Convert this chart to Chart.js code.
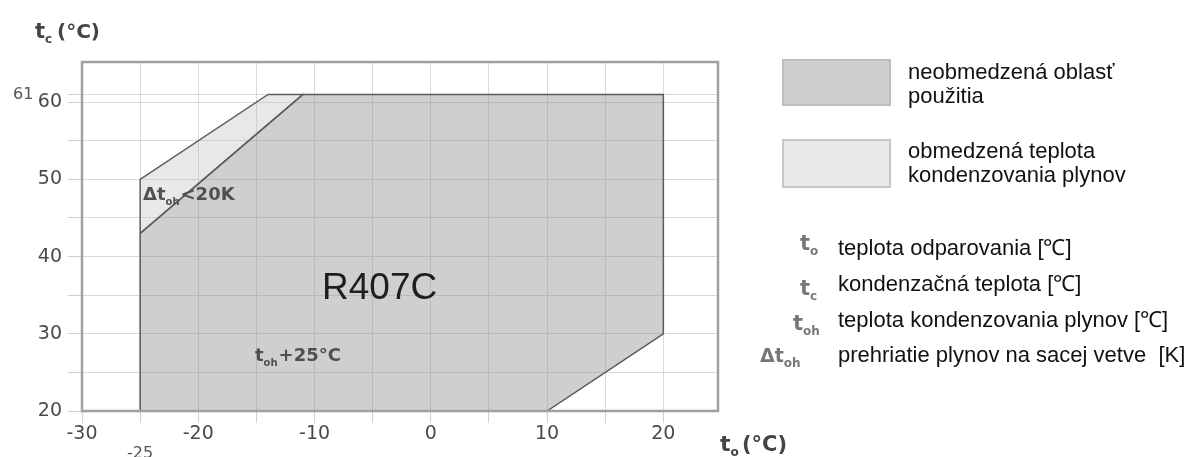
<!DOCTYPE html>
<html><head><meta charset="utf-8">
<script src="https://cdn.jsdelivr.net/npm/chart.js@4/dist/chart.umd.min.js"></script>
<style>html,body{margin:0;padding:0;background:#fff;} #wrap{width:1201px;height:457px;position:relative;}</style>
</head><body><div id="wrap"><canvas id="c" width="1201" height="457"></canvas></div>
<script>
// ---- data ----
const xTicks = [-30,-25,-20,-15,-10,-5,0,5,10,15,20];
const yTicks = [20,25,30,35,40,45,50,55,60,61];
const xLabels = [-30,-20,-10,0,10,20];
const yLabels = [20,30,40,50,60];
const unrestrictedX = [-25,-25,-11,20,20,10,-25];
const unrestrictedY = [20,43,61,61,30,20,20];
const restrictedX = [-25,-25,-14,-11,-25];
const restrictedY = [43,50,61,61,43];
const seriesNames = ['neobmedzená oblasť použitia','obmedzená teplota kondenzovania plynov'];
const refrigerant = 'R407C';

const toPts = (xs, ys) => xs.map((x,i)=>({x:x, y:ys[i]}));

Chart.defaults.font.family = 'DejaVu Sans';

function sub(ctx, x, y, main, s, rest, size, subSize, color, weight) {
  ctx.fillStyle = color;
  ctx.textBaseline = 'alphabetic';
  ctx.textAlign = 'left';
  ctx.font = weight + ' ' + size + 'px "DejaVu Sans"';
  ctx.fillText(main, x, y);
  let w = ctx.measureText(main).width;
  ctx.font = weight + ' ' + subSize + 'px "DejaVu Sans"';
  ctx.fillText(s, x + w, y + subSize*0.45);
  w += ctx.measureText(s).width;
  if (rest) {
    ctx.font = weight + ' ' + size + 'px "DejaVu Sans"';
    ctx.fillText(rest, x + w + 1, y);
  }
}

const decor = {
  id: 'decor',
  afterDatasetsDraw(chart) {
    const ctx = chart.ctx, a = chart.chartArea;
    ctx.save();
    ctx.strokeStyle = '#a0a0a0';
    ctx.lineWidth = 2.5;
    ctx.strokeRect(a.left, a.top, a.right - a.left, a.bottom - a.top);
    ctx.restore();
  },
  afterDraw(chart) {
    const ctx = chart.ctx, xs = chart.scales.x, ys = chart.scales.y;
    ctx.save();
    // special tick labels
    ctx.fillStyle = '#555';
    ctx.font = '16px "DejaVu Sans"';
    ctx.textAlign = 'left'; ctx.textBaseline = 'alphabetic';
    ctx.fillText('61', 13, ys.getPixelForValue(61) + 5);
    ctx.textAlign = 'center'; ctx.textBaseline = 'top';
    ctx.fillText('-25', xs.getPixelForValue(-25), 446);
    // chart name
    ctx.fillStyle = '#1e1e1e';
    ctx.font = '37px "Liberation Sans"';
    ctx.textAlign = 'left'; ctx.textBaseline = 'alphabetic';
    ctx.fillText(refrigerant, 322, 299);
    // in-plot annotations
    sub(ctx, 143, 200, 'Δt', 'oh', '<20K', 18, 10, '#505050', 'bold');
    sub(ctx, 255, 361, 't', 'oh', '+25°C', 18, 10, '#505050', 'bold');
    // axis titles
    sub(ctx, 35, 38, 't', 'c', '', 21, 12, '#444', 'bold');
    ctx.font = 'bold 20px "DejaVu Sans"'; ctx.fillText('(°C)', 57, 38);
    sub(ctx, 720, 451, 't', 'o', '', 22, 12, '#444', 'bold');
    ctx.font = 'bold 21px "DejaVu Sans"'; ctx.fillText('(°C)', 742, 451);
    // legend boxes
    ctx.fillStyle = '#cfcfcf'; ctx.fillRect(783, 60, 107, 45);
    ctx.strokeStyle = '#bdbdbd'; ctx.lineWidth = 2; ctx.strokeRect(783, 60, 107, 45);
    ctx.fillStyle = '#e9e9e9'; ctx.fillRect(783, 140, 107, 47);
    ctx.strokeStyle = '#c6c6c6'; ctx.strokeRect(783, 140, 107, 47);
    ctx.fillStyle = '#111';
    ctx.font = '22px "Liberation Sans"';
    ctx.fillText('neobmedzená oblasť', 908, 79);
    ctx.fillText('použitia', 908, 103);
    ctx.fillText('obmedzená teplota', 908, 158);
    ctx.fillText('kondenzovania plynov', 908, 182);
    // symbol list
    sub(ctx, 800, 250, 't', 'o', '', 21, 12, '#777', 'bold');
    sub(ctx, 800, 295, 't', 'c', '', 21, 12, '#777', 'bold');
    sub(ctx, 793, 330, 't', 'oh', '', 21, 12, '#777', 'bold');
    sub(ctx, 760, 362, 'Δt', 'oh', '', 19, 12, '#777', 'bold');
    ctx.fillStyle = '#111';
    ctx.font = '22px "Liberation Sans"';
    ctx.fillText('teplota odparovania [℃]', 838, 255);
    ctx.fillText('kondenzačná teplota [℃]', 838, 291);
    ctx.fillText('teplota kondenzovania plynov [℃]', 838, 327);
    ctx.fillText('prehriatie plynov na sacej vetve  [K]', 838, 362);
    ctx.restore();
  }
};

new Chart(document.getElementById('c'), {
  type: 'scatter',
  data: { datasets: [
    { label: seriesNames[1], data: toPts(restrictedX, restrictedY), showLine: true, fill: 'shape',
      backgroundColor: 'rgba(190,190,190,0.35)', borderColor: '#5e5e5e', borderWidth: 1.5, pointRadius: 0, tension: 0 },
    { label: seriesNames[0], data: toPts(unrestrictedX, unrestrictedY), showLine: true, fill: 'shape',
      backgroundColor: 'rgba(140,140,140,0.42)', borderColor: '#5a5a5a', borderWidth: 1.5, pointRadius: 0, tension: 0 }
  ]},
  options: {
    responsive: false, animation: false, events: [],
    layout: { padding: { left: 0, top: 62, right: 483, bottom: 0 } },
    plugins: { legend: { display: false }, tooltip: { enabled: false } },
    scales: {
      x: { type: 'linear', min: -30, max: 24.7,
        afterBuildTicks: s => { s.ticks = xTicks.map(v => ({ value: v })); },
        afterFit: s => { s.height = 46; },
        grid: { color: '#d9d9d9', tickLength: 12, tickColor: '#d0d0d0' },
        border: { display: false },
        ticks: { font: { size: 19 }, color: '#4a4a4a', padding: 0, autoSkip: false, maxRotation: 0,
          callback: v => xLabels.includes(v) ? String(v) : '' } },
      y: { type: 'linear', min: 20, max: 65.2,
        afterBuildTicks: s => { s.ticks = yTicks.map(v => ({ value: v })); },
        afterFit: s => { s.width = 82; },
        grid: { color: '#d9d9d9', tickLength: 14, tickColor: '#d0d0d0' },
        border: { display: false },
        ticks: { font: { size: 19 }, color: '#4a4a4a', padding: 6, autoSkip: false,
          callback: v => yLabels.includes(v) ? String(v) : '' } }
    }
  },
  plugins: [decor]
});
</script></body></html>
